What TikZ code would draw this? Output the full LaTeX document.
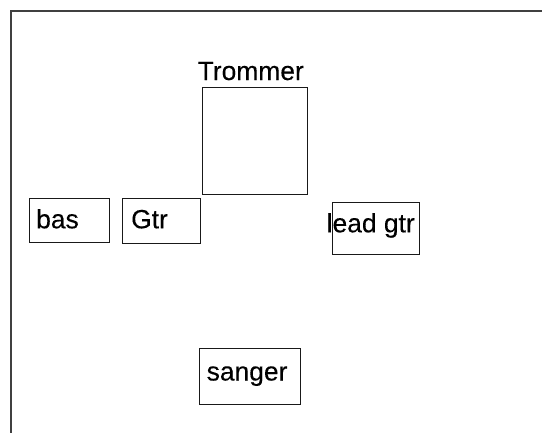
\documentclass[tikz,border=0pt]{standalone}
\usepackage{fontspec}
\setmainfont{Liberation Sans}[FakeBold=0.2]
\begin{document}
\begin{tikzpicture}[x=1pt,y=-1pt,
  frameline/.style={draw=black!75, line width=2pt},
  spot/.style={draw=black!90, line width=1pt, inner sep=0pt, fill=none},
  tag/.style={anchor=base west, inner sep=0pt, text=black,
              font=\fontsize{26.4}{30}\selectfont}]
  \useasboundingbox (0,0) rectangle (542,432);
  % stage frame (open to the right and bottom)
  \coordinate (fb) at (11,440);
  \coordinate (fc) at (11,11);
  \coordinate (fr) at (550,11);
  \draw[frameline] (fb) -- (fc) -- (fr);

  % positions on stage
  \node[spot, minimum width=105pt, minimum height=107pt] (trommer) at (254.5,140.5) {};
  \node[spot, minimum width=80pt,  minimum height=44pt]  (bas)     at (69,220) {};
  \node[spot, minimum width=78pt,  minimum height=45pt]  (gtr)     at (161,220.5) {};
  \node[spot, minimum width=87pt,  minimum height=52pt]  (lead)    at (375.5,228.3) {};
  \node[spot, minimum width=101pt, minimum height=56pt]  (sanger)  at (249.5,376) {};

  % names
  \node[tag] (ttrommer) at (197.5,80)  {Trommer};
  \node[tag] (tbas)     at (36,228.3)  {bas};
  \node[tag] (tgtr)     at (131,228.3) {Gtr};
  \node[tag] (tlead)    at (326.5,232.3) {lead gtr};
  \node[tag] (tsanger)  at (206.5,380.5) {sanger};
\end{tikzpicture}
\end{document}
